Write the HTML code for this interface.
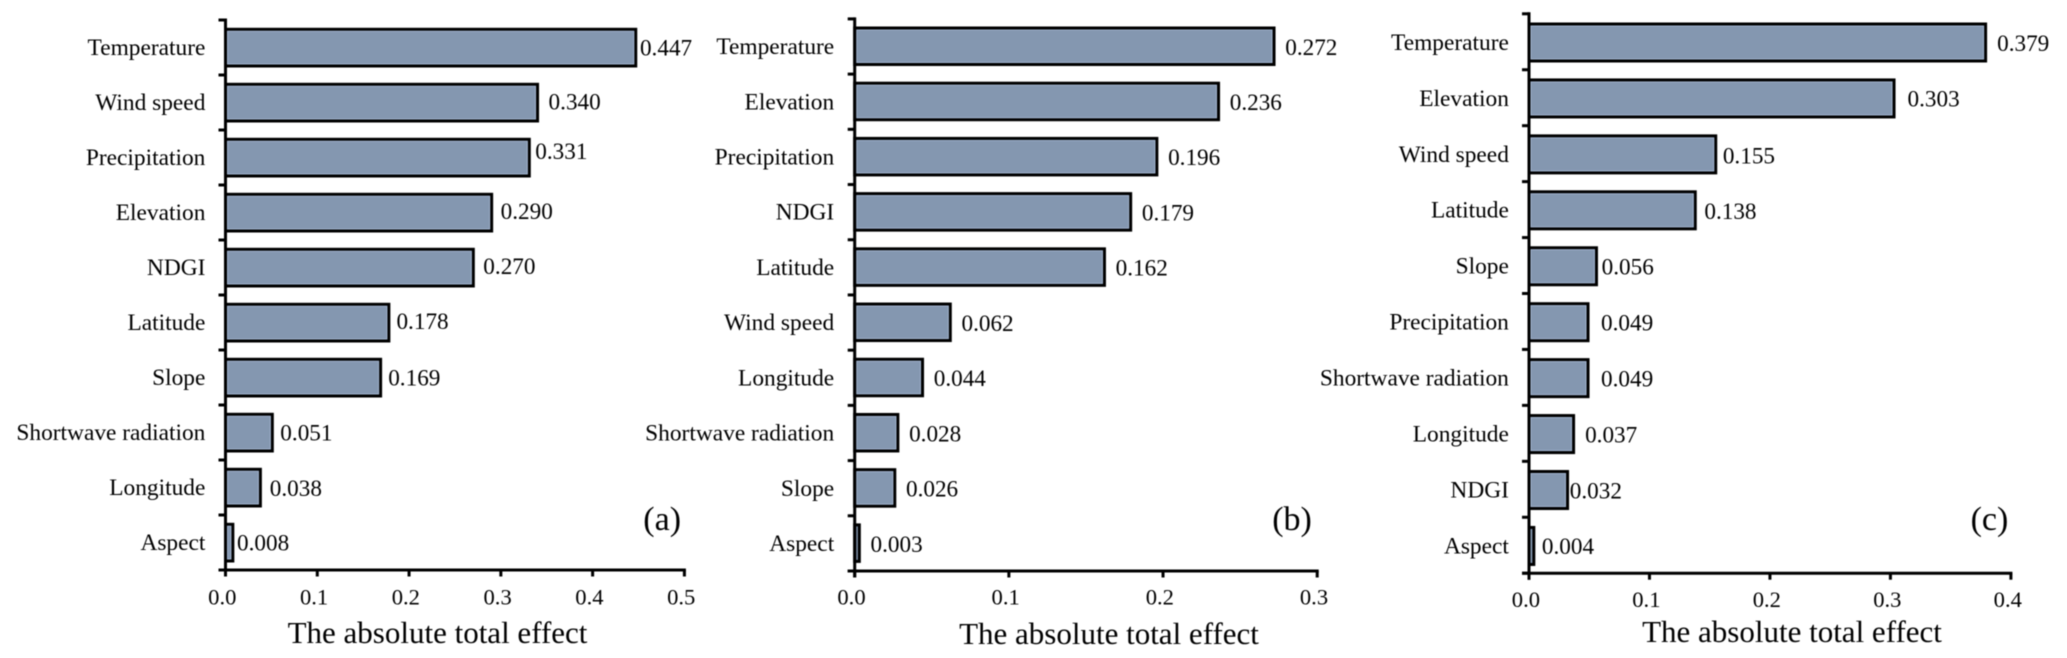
<!DOCTYPE html>
<html lang="en">
<head>
<meta charset="utf-8">
<title>The absolute total effect of ten factors, panels a to c</title>
<style>
  html, body { margin: 0; padding: 0; background: #ffffff; }
  #figure { display: block; width: 2067px; height: 658px; filter: blur(0.4px); }
  text { font-family: "Liberation Serif", "Times New Roman", serif; fill: #000000; }
</style>
</head>
<body>
<svg id="figure" xmlns="http://www.w3.org/2000/svg" width="2067" height="658" viewBox="0 0 2067 658"></svg>
<script>
// ---- chart data ----
const categoriesA = ["Temperature", "Wind speed", "Precipitation", "Elevation", "NDGI", "Latitude", "Slope", "Shortwave radiation", "Longitude", "Aspect"];
const valuesA = [0.447, 0.340, 0.331, 0.290, 0.270, 0.178, 0.169, 0.051, 0.038, 0.008];
const xTickLabelsA = ["0.0", "0.1", "0.2", "0.3", "0.4", "0.5"];

const categoriesB = ["Temperature", "Elevation", "Precipitation", "NDGI", "Latitude", "Wind speed", "Longitude", "Shortwave radiation", "Slope", "Aspect"];
const valuesB = [0.272, 0.236, 0.196, 0.179, 0.162, 0.062, 0.044, 0.028, 0.026, 0.003];
const xTickLabelsB = ["0.0", "0.1", "0.2", "0.3"];

const categoriesC = ["Temperature", "Elevation", "Wind speed", "Latitude", "Slope", "Precipitation", "Shortwave radiation", "Longitude", "NDGI", "Aspect"];
const valuesC = [0.379, 0.303, 0.155, 0.138, 0.056, 0.049, 0.049, 0.037, 0.032, 0.004];
const xTickLabelsC = ["0.0", "0.1", "0.2", "0.3", "0.4"];

const axisTitle = "The absolute total effect";

// ---- layout (geometry only, independent of the data) ----
const layoutA = {
  id: "a", tag: "(a)", left: 225.5, right: 684.4, top: 20, bottom: 570,
  barInset: 9.3, barHeight: 36.7, labelRight: 205.4, labelDy: 7.6, tickDy: 34.6,
  tickDx: -3.2, titleX: 437.5, titleY: 643, tagX: 643.3, tagY: 530,
  valueGap: [4.2, 11, 6, 9, 10, 7.6, 7.6, 8, 9.4, 4.2],
  valueDy: [8, 7.2, 1.7, 6.7, 6.6, 6.6, 8.2, 7.8, 8.6, 8.2]
};
const layoutB = {
  id: "b", tag: "(b)", left: 854.7, right: 1317.2, top: 18.9, bottom: 571,
  barInset: 9.1, barHeight: 36.5, labelRight: 834.2, labelDy: 7.6, tickDy: 33.6,
  tickDx: -3.2, titleX: 1109, titleY: 644, tagX: 1272.2, tagY: 530,
  valueGap: [11.2, 11.2, 11.2, 11.2, 11.2, 11.2, 11.2, 11.2, 11.2, 11.2],
  valueDy: [8.3, 8.1, 8.1, 8.2, 8.2, 8.2, 8.2, 8.3, 8.3, 8.4]
};
const layoutC = {
  id: "c", tag: "(c)", left: 1529, right: 2010.9, top: 13.8, bottom: 573.2,
  barInset: 10.2, barHeight: 37, labelRight: 1508.9, labelDy: 8.1, tickDy: 33.6,
  tickDx: -3.1, titleX: 1792, titleY: 642, tagX: 1970.6, tagY: 530,
  valueGap: [11.5, 13.5, 7.1, 9.1, 5.2, 13, 13, 11.5, 2.2, 8.1],
  valueDy: [9.1, 9, 9.7, 9.2, 9.2, 9.2, 9.2, 9.2, 9.2, 8.7]
};

const svg = document.getElementById("figure");
const NS = "http://www.w3.org/2000/svg";
const INK = "#000000";
const FILL = "#8497b0";
const EDGE = "#a3b5d0";
const STROKE = 3;

function make(tag, parent, props) {
  const node = document.createElementNS(NS, tag);
  for (const key in props) node.setAttribute(key, props[key]);
  parent.appendChild(node);
  return node;
}

function drawPanel(categories, values, tickLabels, L) {
  const domainMax = Number(tickLabels[tickLabels.length - 1]);
  const xScale = function (v) { return L.left + (v / domainMax) * (L.right - L.left); };
  const band = (L.bottom - L.top) / categories.length;
  const yBand = function (i) { return L.top + i * band; };

  const panel = make("g", svg, {});
  
  

  // bars
  values.forEach(function (v, i) {
    const bar = make("rect", panel, {
      x: xScale(0), y: yBand(i) + L.barInset,
      width: Math.max(0, xScale(v) - xScale(0)), height: L.barHeight,
      fill: FILL, stroke: INK, "stroke-width": STROKE
    });
    
    

    const w = xScale(v) - xScale(0);
    if (w > 5) {
      const sheen = make("rect", panel, {
        x: xScale(0) + 2, y: yBand(i) + L.barInset + 2,
        width: w - 4, height: L.barHeight - 4,
        fill: "none", stroke: EDGE, "stroke-width": 0.9
      });
      
      
    }

    const valueText = make("text", panel, {
      x: xScale(v) + L.valueGap[i], y: yBand(i) + band / 2 + L.valueDy[i],
      "font-size": 23.2
    });
    valueText.textContent = v.toFixed(3);
    
    

    const catText = make("text", panel, {
      x: L.labelRight, y: yBand(i) + band / 2 + L.labelDy,
      "font-size": 23.4, "text-anchor": "end"
    });
    catText.textContent = categories[i];
    
    
  });

  // y axis
  const yAxis = make("line", panel, {
    x1: L.left, x2: L.left, y1: L.top - 1.5, y2: L.bottom + 6.5,
    stroke: INK, "stroke-width": STROKE
  });
  
  

  for (let i = 0; i <= categories.length; i++) {
    const tick = make("line", panel, {
      x1: L.left - 7, x2: L.left, y1: yBand(i), y2: yBand(i),
      stroke: INK, "stroke-width": STROKE
    });
    
    
  }

  // x axis
  const xAxis = make("line", panel, {
    x1: L.left - 7, x2: L.right + 1.5, y1: L.bottom, y2: L.bottom,
    stroke: INK, "stroke-width": STROKE
  });
  
  

  tickLabels.forEach(function (label) {
    const x = xScale(Number(label));
    const tick = make("line", panel, {
      x1: x, x2: x, y1: L.bottom, y2: L.bottom + 6.5,
      stroke: INK, "stroke-width": STROKE
    });
    
    

    const tickText = make("text", panel, {
      x: x + L.tickDx, y: L.bottom + L.tickDy,
      "font-size": 22.6, "text-anchor": "middle"
    });
    tickText.textContent = label;
    
    
  });

  // titles
  const title = make("text", panel, {
    x: L.titleX, y: L.titleY, "font-size": 31, "text-anchor": "middle"
  });
  title.textContent = axisTitle;
  
  

  const tag = make("text", panel, { x: L.tagX, y: L.tagY, "font-size": 34 });
  tag.textContent = L.tag;
  
  
}

drawPanel(categoriesA, valuesA, xTickLabelsA, layoutA);
drawPanel(categoriesB, valuesB, xTickLabelsB, layoutB);
drawPanel(categoriesC, valuesC, xTickLabelsC, layoutC);
</script>
</body>
</html>
